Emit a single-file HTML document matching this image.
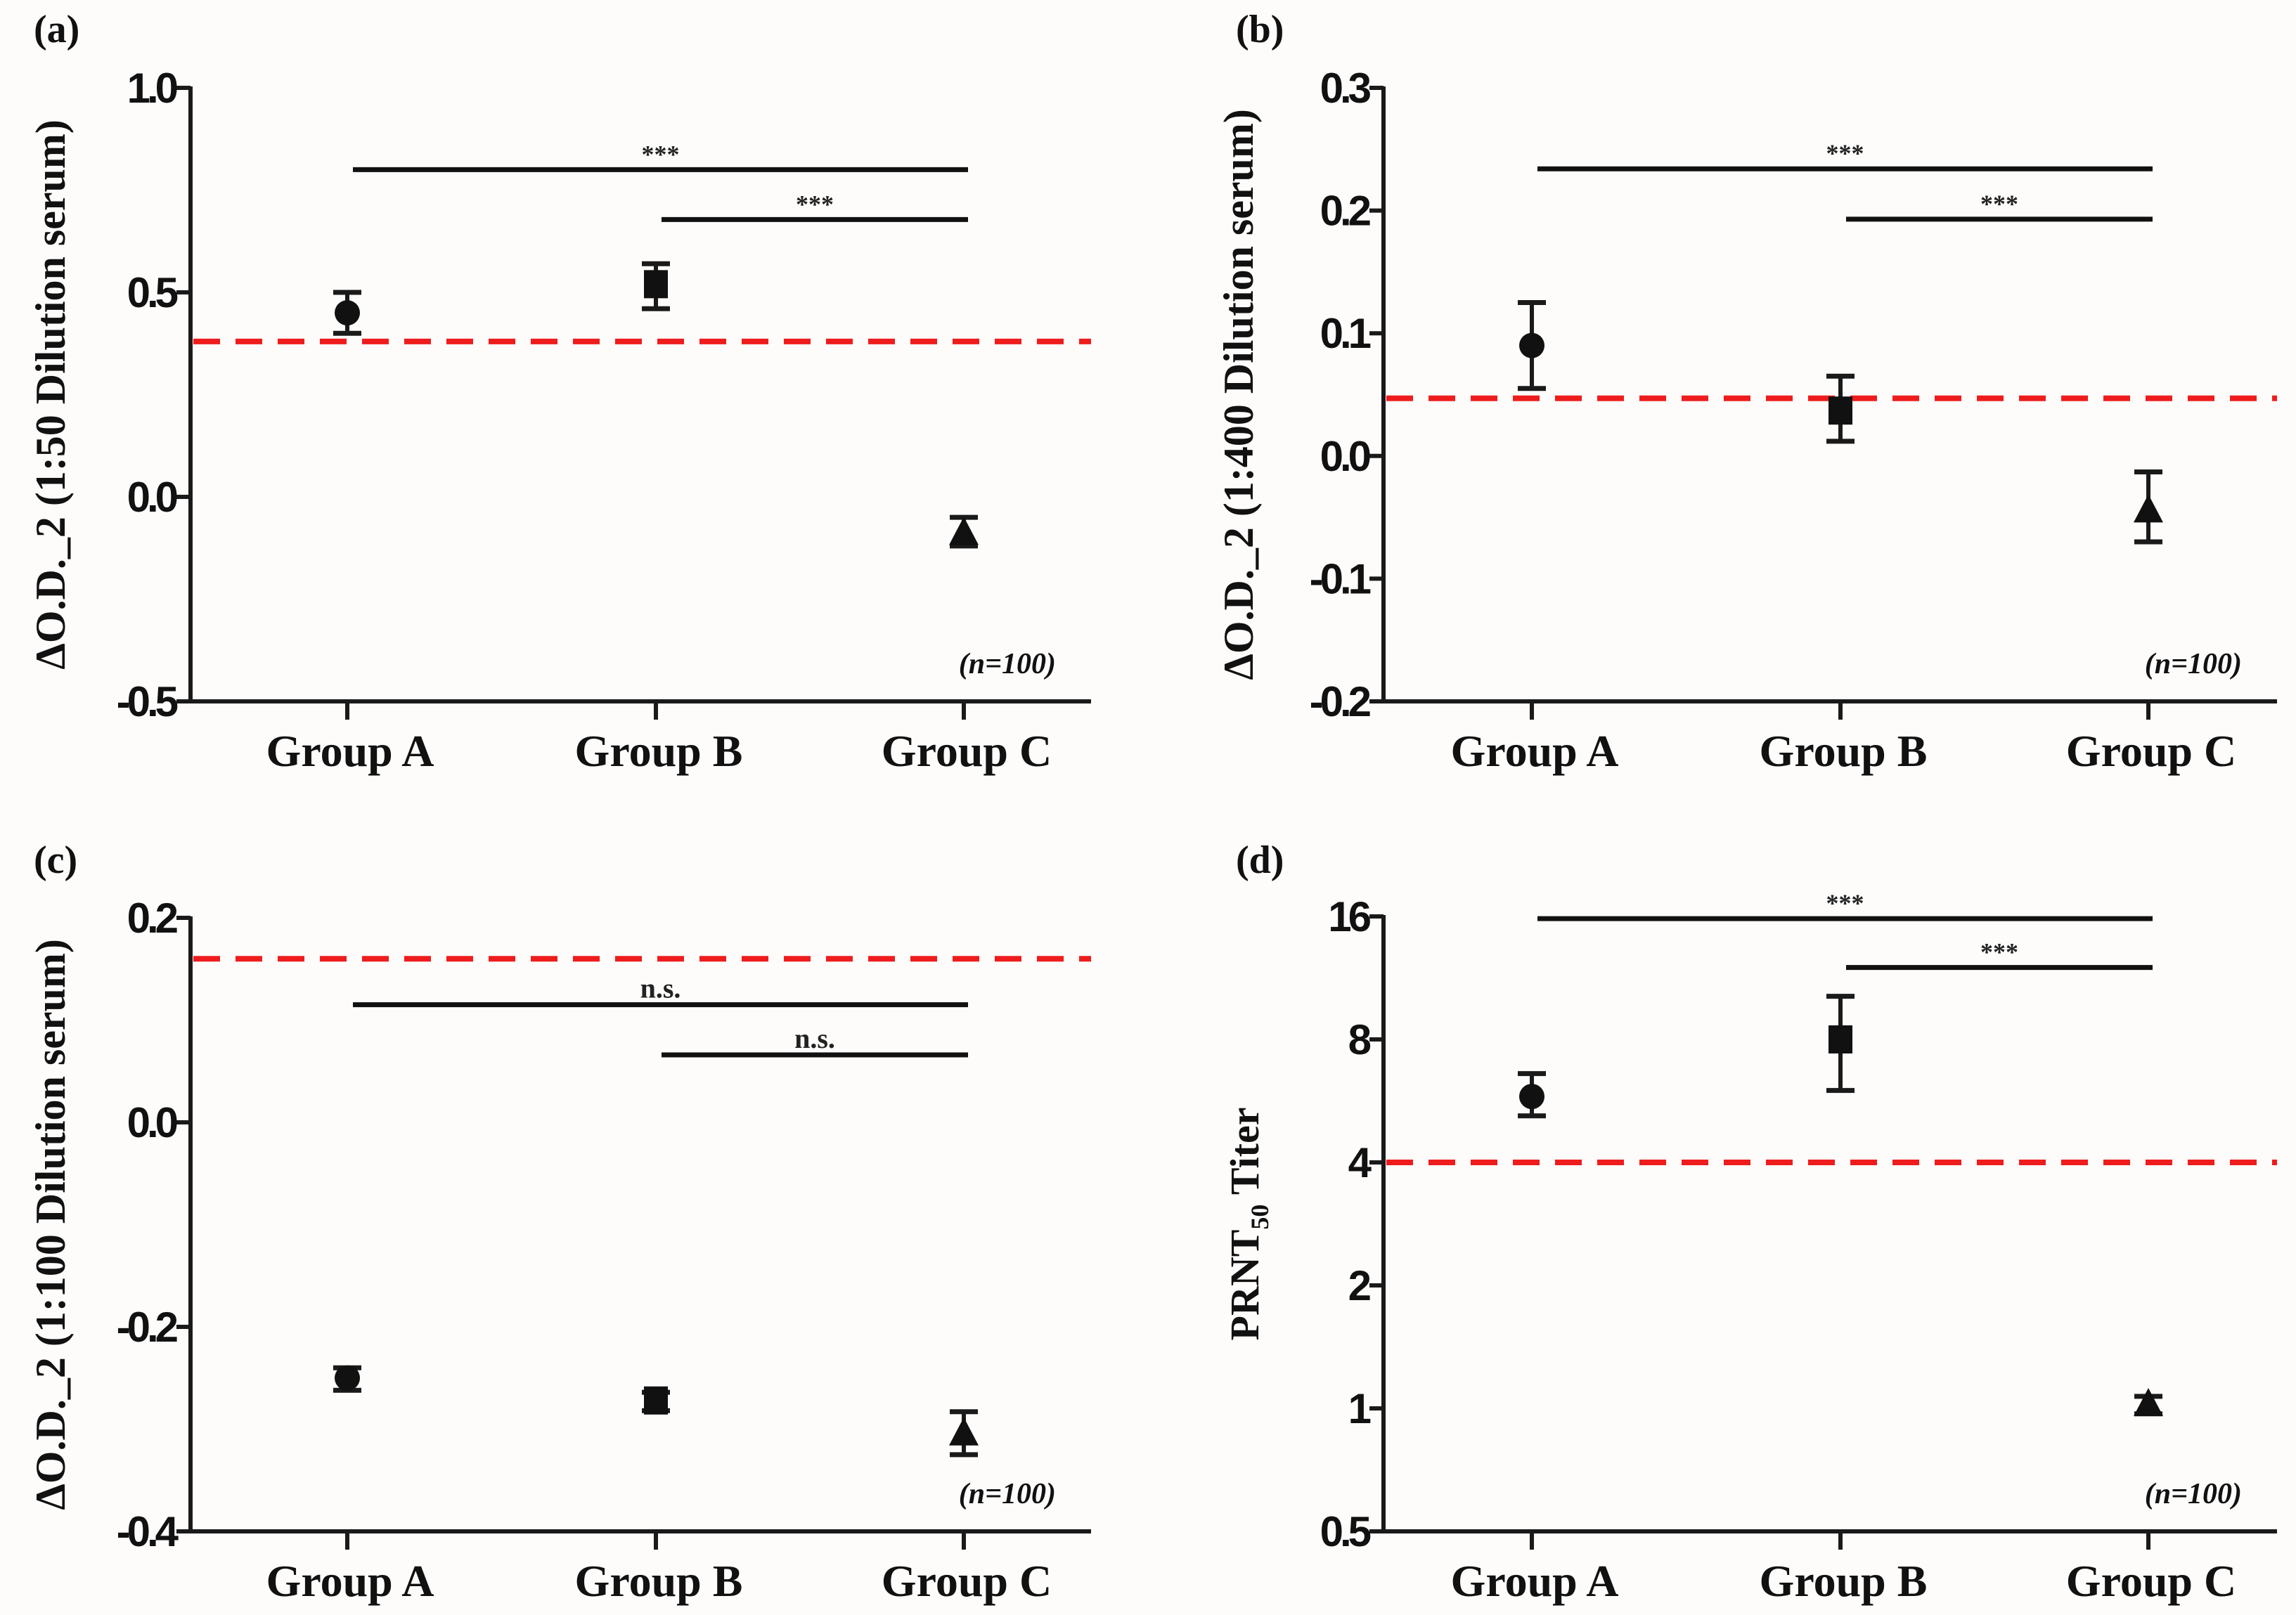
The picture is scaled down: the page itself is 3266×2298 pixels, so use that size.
<!DOCTYPE html>
<html><head><meta charset="utf-8"><style>
html,body{margin:0;padding:0;background:#fdfcfb;}
svg{display:block;}
</style></head><body>
<svg id="fig" width="3266" height="2298" viewBox="0 0 3266 2298" xmlns="http://www.w3.org/2000/svg">
<rect width="3266" height="2298" fill="#fdfcfb"/>
</svg>
<script>
const groups = ["Group A","Group B","Group C"];
const markers = ["circle","square","triangle"];
// panel a
const aMean = [0.45, 0.52, -0.09];
const aLow = [0.40, 0.46, -0.12];
const aHigh = [0.50, 0.57, -0.05];
const aCut = 0.38;
const aTicks = [1.0, 0.5, 0.0, -0.5];
const aTickLabels = ["1.0","0.5","0.0","-0.5"];
const aSig = [0.80, 0.678];
const aSigText = ["***","***"];
// panel b
const bMean = [0.09, 0.037, -0.045];
const bLow = [0.055, 0.012, -0.07];
const bHigh = [0.125, 0.065, -0.013];
const bCut = 0.047;
const bTicks = [0.3, 0.2, 0.1, 0.0, -0.1, -0.2];
const bTickLabels = ["0.3","0.2","0.1","0.0","-0.1","-0.2"];
const bSig = [0.234, 0.193];
const bSigText = ["***","***"];
// panel c
const cMean = [-0.25, -0.272, -0.305];
const cLow = [-0.262, -0.282, -0.325];
const cHigh = [-0.24, -0.264, -0.283];
const cCut = 0.16;
const cTicks = [0.2, 0.0, -0.2, -0.4];
const cTickLabels = ["0.2","0.0","-0.2","-0.4"];
const cSig = [0.115, 0.066];
const cSigText = ["n.s.","n.s."];
// panel d (log2 axis)
const dMean = [5.8, 8, 1.02];
const dLow = [5.2, 6.0, 0.97];
const dHigh = [6.6, 10.2, 1.07];
const dCut = 4;
const dTicks = [16, 8, 4, 2, 1, 0.5];
const dTickLabels = ["16","8","4","2","1","0.5"];
const dSig = [15.8, 12];
const dSigText = ["***","***"];

const NS="http://www.w3.org/2000/svg";
const svg=document.getElementById('fig');
function mk(tag,attrs,parent,text){const e=document.createElementNS(NS,tag);for(const k in attrs)e.setAttribute(k,attrs[k]);if(text!==undefined)e.textContent=text;(parent||svg).appendChild(e);return e;}

function panel(cfg){
  const g=mk('g',{});
  
  
  const x0=cfg.x0,x1=cfg.x1,yt=cfg.yt,yb=cfg.yb;
  const tr=cfg.log?(v=>Math.log2(v)):(v=>v);
  const vmax=tr(cfg.ticks[0]),vmin=tr(cfg.ticks[cfg.ticks.length-1]);
  const y=v=>yt+(vmax-tr(v))/(vmax-vmin)*(yb-yt);
  const gx=i=>cfg.gx[i];
  const pl=mk('text',{x:cfg.lx,y:cfg.ly,'font-family':'Liberation Serif, serif','font-weight':'bold','font-size':56,fill:'#111'},g,'('+cfg.id+')');
  
  
  const cl=mk('line',{x1:x0+4,x2:x1,y1:y(cfg.cut),y2:y(cfg.cut),stroke:'#ee1c1c','stroke-width':8,'stroke-dasharray':'38,22'},g);
  
  
  const ya=mk('line',{x1:x0,x2:x0,y1:yt-2,y2:yb+3,stroke:'#1a1a1a','stroke-width':6},g);
  
  
  const xa=mk('line',{x1:x0-3,x2:x1,y1:yb,y2:yb,stroke:'#1a1a1a','stroke-width':6},g);
  
  
  cfg.ticks.forEach((t,i)=>{
    mk('line',{x1:x0-20,x2:x0,y1:y(t),y2:y(t),stroke:'#1a1a1a','stroke-width':6},g);
    const tl=mk('text',{x:x0-22,y:y(t)+21,'text-anchor':'end','font-family':'Liberation Sans, sans-serif','font-weight':'bold','font-size':60,fill:'#111','letter-spacing':'-5'},g,cfg.tickLabels[i]);
    
    
  });
  groups.forEach((gn,i)=>{
    mk('line',{x1:gx(i),x2:gx(i),y1:yb,y2:yb+26,stroke:'#1a1a1a','stroke-width':6},g);
    const t=mk('text',{x:gx(i)+4,y:yb+92,'text-anchor':'middle','font-family':'Liberation Serif, serif','font-weight':'bold','font-size':64,fill:'#111'},g,gn);
    
    
  });
  const yl=mk('text',{transform:`translate(${cfg.tx},${(yt+yb)/2}) rotate(-90)`,'text-anchor':'middle','font-family':'Liberation Serif, serif','font-weight':'bold','font-size':cfg.tsize||60,fill:'#111'},g);
  
  
  if(cfg.sub){
    mk('tspan',{},yl,'PRNT');
    mk('tspan',{'font-size':36,dy:14},yl,'50');
    mk('tspan',{dy:-14},yl,' Titer');
  } else yl.textContent=cfg.title;
  const nl=mk('text',{x:x1-50,y:yb-40,'text-anchor':'end','font-family':'Liberation Serif, serif','font-weight':'bold','font-style':'italic','font-size':42,fill:'#111'},g,'(n=100)');
  
  
  const starts=[0,1];
  cfg.sig.forEach((v,i)=>{
    const xs=gx(starts[i])+8,xe=gx(2)+6;
    const b=mk('line',{x1:xs,x2:xe,y1:y(v),y2:y(v),stroke:'#111','stroke-width':7},g);
    
    
    const st=mk('text',{x:(xs+xe)/2,y:y(v)-10,'text-anchor':'middle','font-family':'Liberation Serif, serif','font-weight':'bold','font-size':cfg.sigText[i]==='***'?36:40,fill:'#222'},g,cfg.sigText[i]);
    
    
  });
  cfg.mean.forEach((m,i)=>{
    const cx=gx(i),cy=y(m),lo=y(cfg.low[i]),hi=y(cfg.high[i]);
    const pg=mk('g',{},g);
    
    
    mk('line',{x1:cx,x2:cx,y1:lo,y2:hi,stroke:'#1a1a1a','stroke-width':6},pg);
    mk('line',{x1:cx-20,x2:cx+20,y1:lo,y2:lo,stroke:'#1a1a1a','stroke-width':7},pg);
    mk('line',{x1:cx-20,x2:cx+20,y1:hi,y2:hi,stroke:'#1a1a1a','stroke-width':7},pg);
    const mkType=markers[i];
    if(mkType==='circle')mk('circle',{cx:cx,cy:cy,r:18,fill:'#111'},pg);
    else if(mkType==='square')mk('rect',{x:cx-17,y:cy-20,width:34,height:40,fill:'#111'},pg);
    else mk('polygon',{points:`${cx},${cy-24} ${cx-21},${cy+16} ${cx+21},${cy+16}`,fill:'#111'},pg);
  });
}
const gxL=[494,933,1371], gxR=[2179,2618,3056];
panel({id:'a',x0:271,x1:1552,yt:125,yb:998,gx:gxL,ticks:aTicks,tickLabels:aTickLabels,mean:aMean,low:aLow,high:aHigh,cut:aCut,sig:aSig,sigText:aSigText,lx:48,ly:60,tx:92,title:'ΔO.D._2 (1:50 Dilution serum)'});
panel({id:'b',x0:1968,x1:3239,yt:125,yb:998,gx:gxR,ticks:bTicks,tickLabels:bTickLabels,mean:bMean,low:bLow,high:bHigh,cut:bCut,sig:bSig,sigText:bSigText,lx:1758,ly:60,tx:1782,title:'ΔO.D._2 (1:400 Dilution serum)'});
panel({id:'c',x0:271,x1:1552,yt:1306,yb:2179,gx:gxL,ticks:cTicks,tickLabels:cTickLabels,mean:cMean,low:cLow,high:cHigh,cut:cCut,sig:cSig,sigText:cSigText,lx:48,ly:1242,tx:92,title:'ΔO.D._2 (1:100 Dilution serum)'});
panel({id:'d',x0:1968,x1:3239,yt:1304,yb:2179,gx:gxR,log:true,ticks:dTicks,tickLabels:dTickLabels,mean:dMean,low:dLow,high:dHigh,cut:dCut,sig:dSig,sigText:dSigText,lx:1758,ly:1242,tx:1790,sub:true,tsize:58});
</script>
</body></html>
